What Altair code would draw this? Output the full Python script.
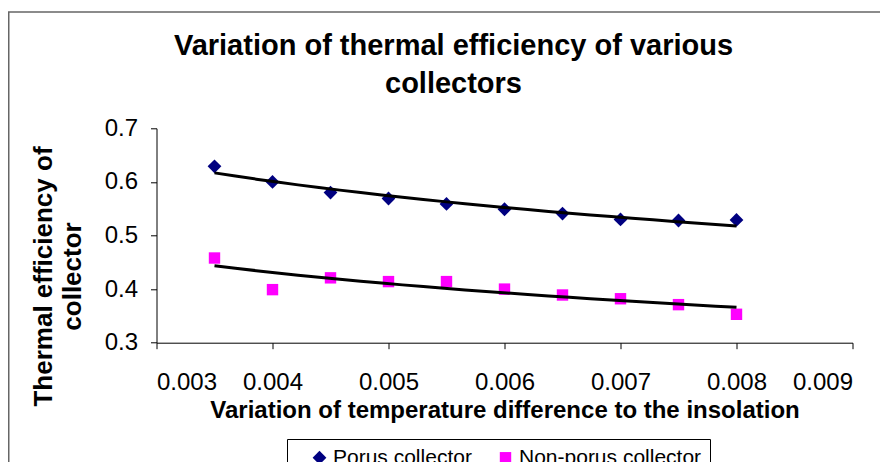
import altair as alt
import pandas as pd

x_vals = [0.0035, 0.004, 0.0045, 0.005, 0.0055, 0.006, 0.0065, 0.007, 0.0075, 0.008]
porus = [0.629, 0.600, 0.580, 0.569, 0.559, 0.549, 0.541, 0.530, 0.528, 0.529]
nonporus = [0.458, 0.399, 0.421, 0.414, 0.414, 0.400, 0.389, 0.382, 0.371, 0.353]
series_names = ["Porus collector", "Non-porus collector"]
x_ticks = [0.003, 0.004, 0.005, 0.006, 0.007, 0.008, 0.009]
y_ticks = [0.3, 0.4, 0.5, 0.6, 0.7]

rows = []
for xv, yv in zip(x_vals, porus):
    rows.append({"x": xv, "y": yv, "series": series_names[0]})
for xv, yv in zip(x_vals, nonporus):
    rows.append({"x": xv, "y": yv, "series": series_names[1]})
df = pd.DataFrame(rows)

FONT = "Liberation Sans"

legend = alt.Legend(
    title=None, orient="none", legendX=130.5, legendY=310.7, direction="horizontal",
    strokeColor="#000000", padding=8, symbolOffset=14,
    labelFont=FONT, labelFontSize=21, labelColor="#000000", symbolSize=70,
    symbolStrokeWidth=0, columnPadding=9, labelOffset=3, labelLimit=400,
)

xenc = alt.X("x:Q", scale=alt.Scale(domain=[0.003, 0.009], nice=False, zero=False),
             axis=alt.Axis(values=x_ticks, format=".3f",
                           title="Variation of temperature difference to the insolation",
                           titleFontSize=24, titleFont=FONT, titleFontWeight="bold",
                           titlePadding=4, labelPadding=22))
yenc = alt.Y("y:Q", scale=alt.Scale(domain=[0.3, 0.7], nice=False, zero=False),
             axis=alt.Axis(values=y_ticks, format=".1f",
                           title=["Thermal efficiency of", "collector"],
                           titleFontSize=26, titleFont=FONT, titleFontWeight="bold",
                           titleAngle=-90, titleAlign="center", titleBaseline="top",
                           titleX=-126, titleY=147.7, titleLineHeight=29,
                           labelPadding=13))

color = alt.Color("series:N", sort=series_names,
                  scale=alt.Scale(domain=series_names, range=["#000080", "#FF00FF"]),
                  legend=legend)
shape = alt.Shape("series:N", sort=series_names,
                  scale=alt.Scale(domain=series_names, range=["diamond", "square"]),
                  legend=legend)
size = alt.Size("series:N", sort=series_names,
                scale=alt.Scale(domain=series_names, range=[190, 130]),
                legend=None)

points = alt.Chart(df).mark_point(filled=True, opacity=1).encode(
    x=xenc, y=yenc, color=color, shape=shape, size=size)

trend = alt.Chart(df).transform_regression(
    "x", "y", groupby=["series"], method="log", extent=[0.0035, 0.008]
).mark_line(color="#000000", strokeWidth=3).encode(
    x="x:Q", y="y:Q", detail="series:N")

border = alt.Chart(alt.Data(values=[{"a": 1}])).mark_rect(
    fill=None, stroke="#666666", strokeWidth=1.5
).encode(x=alt.value(-147.75), x2=alt.value(900), y=alt.value(-116.3), y2=alt.value(600))

chart = alt.layer(border, points, trend).properties(
    width=696, height=214.4, background="#ffffff",
    title=alt.TitleParams(
        text=["Variation of thermal efficiency of various", "collectors"],
        fontSize=29, font=FONT, fontWeight="bold", anchor="middle", dx=-51,
        baseline="alphabetic", dy=123,
        lineHeight=38, color="#000000", offset=12),
    autosize=alt.AutoSizeParams(type="none"),
    padding={"left": 148.5, "top": 120.3, "right": 27.5, "bottom": 119.3},
).configure_axis(
    grid=False, domainColor="#000000", domainWidth=1, tickColor="#000000",
    tickSize=6, tickWidth=1, labelFont=FONT, labelFontSize=24, labelColor="#000000",
    titleColor="#000000",
).configure_legend(strokeWidth=1).configure_view(stroke=None)

chart.save("out.html", embed_options={"renderer": "svg", "actions": False})
